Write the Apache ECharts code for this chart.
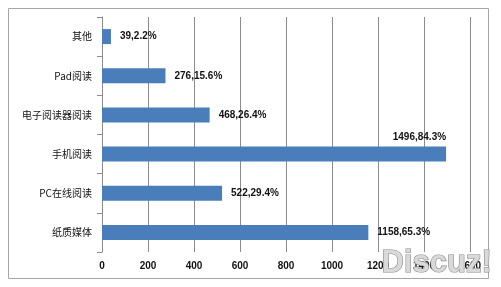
<!DOCTYPE html>
<html><head><meta charset="utf-8">
<script src="https://cdn.jsdelivr.net/npm/echarts@6/dist/echarts.min.js"></script>
<style>html,body{margin:0;padding:0;background:#fff}#c{width:501px;height:287px}</style>
</head><body><div id="c"></div>
<script>
const categories = ['纸质媒体','PC在线阅读','手机阅读','电子阅读器阅读','Pad阅读','其他'];
const values = [1158, 522, 1496, 468, 276, 39];
const percents = ['65.3%','29.4%','84.3%','26.4%','15.6%','2.2%'];
const xTicks = [0,200,400,600,800,1000,1200,1400,1600];

const chart = echarts.init(document.getElementById('c'), null, {renderer:'canvas'});
const data = values.map((v,i)=>{
  const d = {value:v};
  if (v === Math.max(...values)) {
    d.label = {position:['100%',-4], align:'right', verticalAlign:'bottom'};
  }
  return d;
});
chart.setOption({
  animation:false,
  backgroundColor:'#fff',
  grid:{left:102,right:31,top:17,bottom:35,containLabel:false},
  xAxis:{type:'value',min:xTicks[0],max:xTicks[xTicks.length-1],interval:200,
    axisLine:{show:false},axisTick:{show:false},
    splitLine:{show:true,lineStyle:{color:'#8c8c8c',width:1}},
    axisLabel:{color:'#111',fontFamily:'Liberation Sans',fontWeight:'bold',fontSize:10,margin:9,
      formatter:v=>String(v)}},
  yAxis:{type:'category',data:categories,
    axisLine:{show:true,lineStyle:{color:'#8c8c8c'}},
    axisTick:{show:true,length:5,lineStyle:{color:'#8c8c8c'}},
    axisLabel:{color:'#111',fontFamily:'Noto Sans CJK SC',fontSize:10,margin:10}},
  series:[{type:'bar',data:data,barWidth:15,
    itemStyle:{color:'#4a7ebb'},
    label:{show:true,position:'right',distance:9,color:'#111',fontFamily:'Liberation Sans',fontWeight:'bold',fontSize:10,
      formatter:p=>p.value+','+percents[p.dataIndex]}}],
  graphic:[
    {type:'rect',shape:{x:8.5,y:8.5,width:480,height:270},style:{fill:null,stroke:'#a6a6a6',lineWidth:1},z:-1},
    {type:'text',left:381,top:247,style:{text:'Discuz!',font:'bold 31px "Liberation Sans"',fill:'#d9d9d9',stroke:'#8a8a8a',lineWidth:1.2},z:100}
  ]
});
</script></body></html>
